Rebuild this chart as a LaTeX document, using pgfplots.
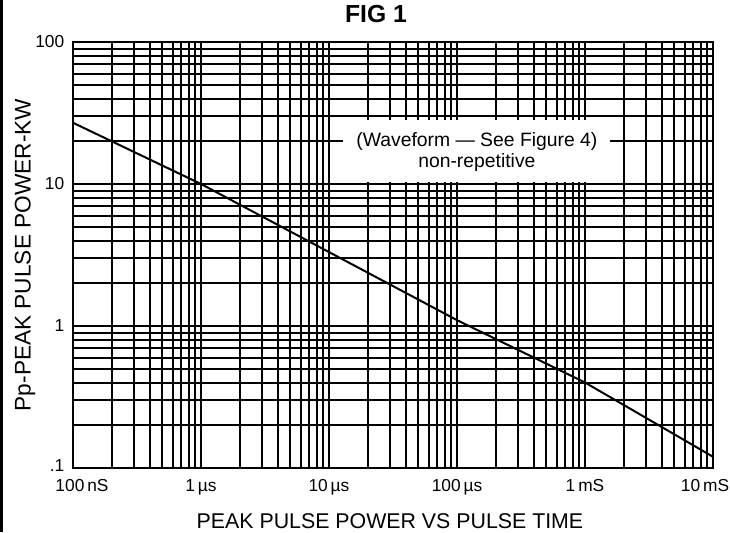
\documentclass[border=0pt]{standalone}
\usepackage{pgfplots}
\pgfplotsset{compat=1.18}
\usepackage{fontspec}
\setmainfont{Liberation Sans}
\begin{document}
\begin{tikzpicture}
\path[use as bounding box] (-54.75pt,-48pt) rectangle (492.75pt,351pt);
\fill[black] (-54.75pt,-48pt) rectangle (-52.5pt,351pt);
\begin{axis}[
  at={(0,0)}, anchor=south west,
  scale only axis, width=480pt, height=319.5pt,
  xmode=log, ymode=log,
  xmin=1e-7, xmax=1e-2, ymin=0.1, ymax=100,
  xtick={1e-7,1e-6,1e-5,1e-4,1e-3,1e-2},
  xticklabels={\hspace*{13.5pt}100\,nS, 1\,µs, 10\,µs, 100\,µs, 1\,mS, 10\,mS\hspace*{12pt}},
  ytick={0.1,1,10,100},
  yticklabels={\raisebox{3pt}{.1},1,10,100},
  minor xtick={2e-7,3e-7,4e-7,5e-7,6e-7,7e-7,8e-7,9e-7,
               2e-6,3e-6,4e-6,5e-6,6e-6,7e-6,8e-6,9e-6,
               2e-5,3e-5,4e-5,5e-5,6e-5,7e-5,8e-5,9e-5,
               2e-4,3e-4,4e-4,5e-4,6e-4,7e-4,8e-4,9e-4,
               2e-3,3e-3,4e-3,5e-3,6e-3,7e-3,8e-3,9e-3},
  minor ytick={0.2,0.3,0.4,0.5,0.6,0.7,0.8,0.9,
               2,3,4,5,6,7,8,9,
               20,30,40,50,60,70,80,90},
  major tick length=0pt, minor tick length=0pt,
  grid=both,
  major grid style={black, line width=1.5pt},
  minor grid style={black, line width=1.5pt},
  axis line style={black, line width=1.8pt},
  tick label style={font=\fontsize{13}{15}\selectfont},
  xticklabel style={yshift=-5pt},
  yticklabel style={xshift=-3pt},
  title={FIG 1},
  title style={font=\fontsize{18.5}{20}\selectfont\bfseries, at={(axis description cs:0.4734,1.0469)}, anchor=center},
  xlabel={PEAK PULSE POWER VS PULSE TIME},
  xlabel style={font=\fontsize{16}{18}\selectfont, at={(axis description cs:0.4953,-0.1244)}, anchor=center},
  ylabel={Pp-PEAK PULSE POWER-KW},
  ylabel style={font=\fontsize{17}{19}\selectfont, at={(axis description cs:-0.075,0.5)}, anchor=center},
]
\fill[white] (axis cs:1.285e-5,10.4) rectangle (axis cs:1.57e-3,28.3);
\addplot[black, line width=1.5pt] coordinates {
  (1e-7,27) (1e-6,10) (1e-4,1.1) (1e-3,0.4) (1e-2,0.12)
};
\node[font=\fontsize{14.5}{16}\selectfont, anchor=center] at (axis cs:1.43e-4,19.8) {(Waveform --- See Figure 4)};
\node[font=\fontsize{14.5}{16}\selectfont, anchor=center] at (axis cs:1.43e-4,14.1) {non-repetitive};
\end{axis}
\end{tikzpicture}
\end{document}
